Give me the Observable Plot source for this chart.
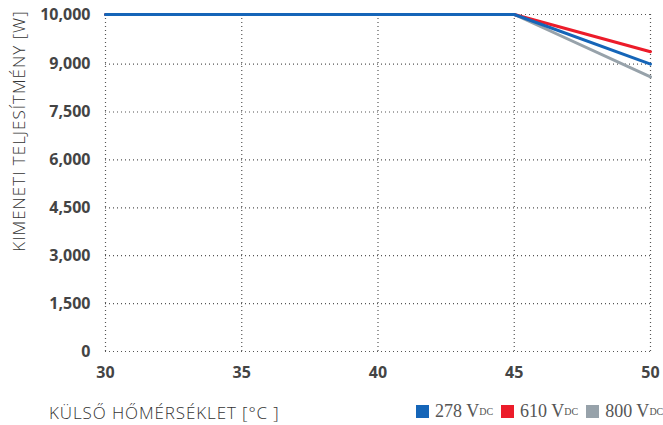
<!DOCTYPE html>
<html>
<head>
<meta charset="utf-8">
<script src="https://cdn.jsdelivr.net/npm/d3@7"></script>
<script src="https://cdn.jsdelivr.net/npm/@observablehq/plot@0.6"></script>
<style>
  body { margin: 0; background: #fff; }
  #wrap { position: relative; width: 663px; height: 425px; overflow: hidden; }
  .ytitle { position: absolute; left: 18px; top: 131px; transform: translate(-50%, -50%) rotate(-90deg);
    font-family: "Open Sans", sans-serif; font-weight: 300; font-size: 17px; letter-spacing: 1px; color: #333; white-space: nowrap; }
  .xtitle { position: absolute; left: 49px; top: 401px;
    font-family: "Open Sans", sans-serif; font-weight: 300; font-size: 17px; letter-spacing: 0.9px; color: #333; white-space: nowrap; }
  .legend { position: absolute; left: 416px; top: 401px; font-family: "Liberation Serif", serif; font-size: 18px; color: #555; white-space: nowrap; display: flex; }
  .legend .item { display: flex; align-items: center; margin-right: 8px; }
  .legend .sw { width: 13px; height: 13px; margin-right: 6px; display: inline-block; }
  .legend sub { font-size: 10px; vertical-align: -2px; }
</style>
</head>
<body>
<div id="wrap"></div>
<script>
const temps = [30, 45, 50];
const p278 = [10000, 10000, 9000];
const p610 = [10000, 10000, 9250];
const p800 = [10000, 10000, 8600];
const seriesNames = ["278 V", "610 V", "800 V"];
const seriesColors = ["#1565b8", "#ec1c2a", "#97a2aa"];
const xTicks = [30, 35, 40, 45, 50];
const yTicks = [0, 1500, 3000, 4500, 6000, 7500, 9000, 10000];

const drawOrder = [2, 1, 0];
const allSeries = [p278, p610, p800];
const rows = [];
for (const i of drawOrder) {
  temps.forEach((t, j) => rows.push({series: seriesNames[i], t, p: allSeries[i][j]}));
}

const plot = Plot.plot({
  width: 663,
  height: 425,
  marginLeft: 105,
  marginRight: 13,
  marginTop: 14,
  marginBottom: 74,
  style: {fontFamily: "'Open Sans', sans-serif", background: "transparent"},
  x: {type: "linear", domain: [30, 50]},
  y: {type: "linear", domain: [0, 9000, 10000], range: [351, 63.6, 14]},
  color: {domain: seriesNames, range: seriesColors},
  marks: [
    Plot.gridX(xTicks, {stroke: "#555", strokeOpacity: 1, strokeDasharray: "1,3", strokeWidth: 1.2}),
    Plot.gridY(yTicks, {stroke: "#555", strokeOpacity: 1, strokeDasharray: "1,3", strokeWidth: 1.2}),
    Plot.axisX({ticks: xTicks, tickSize: 0, tickPadding: 15, label: null, fontSize: 16, fontWeight: "bold", fill: "#444"}),
    Plot.axisY({ticks: yTicks, tickSize: 0, tickPadding: 15, label: null, tickFormat: d3.format(","), fontSize: 16, fontWeight: "bold", fill: "#444"}),
    Plot.line(rows, {x: "t", y: "p", z: "series", stroke: "series", strokeWidth: 3, strokeLinejoin: "round"})
  ]
});

const wrap = document.getElementById("wrap");
wrap.appendChild(plot);

const yt = document.createElement("div");
yt.className = "ytitle";
yt.textContent = "KIMENETI TELJESÍTMÉNY [W]";
wrap.appendChild(yt);

const xt = document.createElement("div");
xt.className = "xtitle";
xt.textContent = "KÜLSŐ HŐMÉRSÉKLET [°C ]";
wrap.appendChild(xt);

const lg = document.createElement("div");
lg.className = "legend";
seriesNames.forEach((n, i) => {
  const it = document.createElement("span");
  it.className = "item";
  it.innerHTML = `<span class="sw" style="background:${seriesColors[i]}"></span>${n}<sub>DC</sub>`;
  lg.appendChild(it);
});
wrap.appendChild(lg);
</script>
</body>
</html>
